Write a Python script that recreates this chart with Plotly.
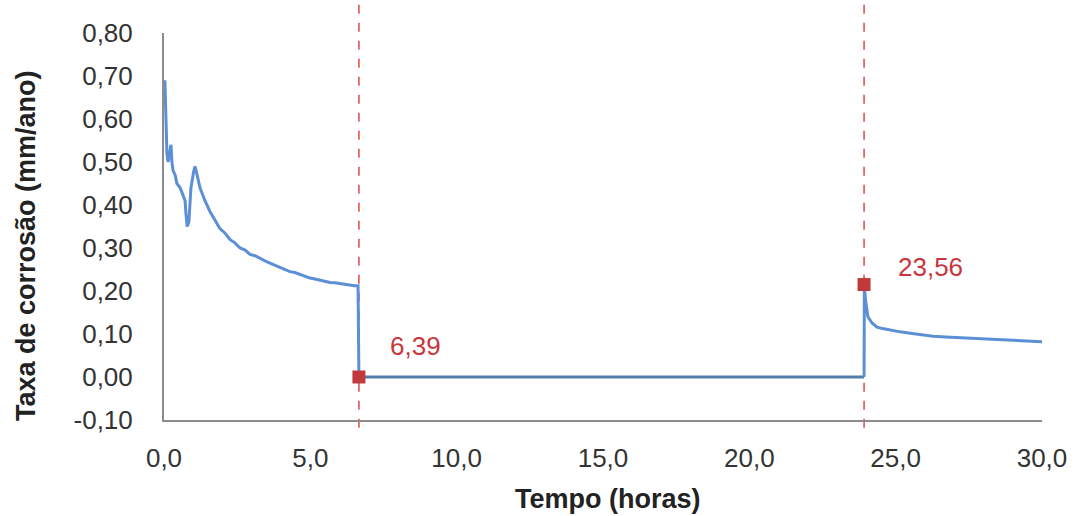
import plotly.graph_objects as go

# Série de taxa de corrosão
t1 = [0.03, 0.07, 0.10, 0.14, 0.20, 0.24, 0.27, 0.31, 0.38, 0.44, 0.55, 0.65, 0.72, 0.75,
      0.79, 0.85, 0.92, 1.02, 1.06, 1.13, 1.23, 1.40, 1.57, 1.74, 1.91, 2.08, 2.25, 2.42,
      2.60, 2.77, 2.94, 3.11, 3.28, 3.45, 3.62, 3.79, 3.96, 4.13, 4.30, 4.47, 4.65, 4.82,
      4.99, 5.16, 5.33, 5.50, 5.67, 5.84, 6.01, 6.18, 6.36, 6.50, 6.63, 6.66]
v1 = [0.69, 0.60, 0.52, 0.50, 0.53, 0.54, 0.50, 0.48, 0.47, 0.45, 0.44, 0.42, 0.41, 0.38,
      0.35, 0.36, 0.44, 0.48, 0.49, 0.47, 0.44, 0.41, 0.385, 0.365, 0.345, 0.335, 0.32, 0.312,
      0.30, 0.295, 0.285, 0.282, 0.275, 0.27, 0.265, 0.26, 0.255, 0.25, 0.245, 0.243, 0.238, 0.234,
      0.23, 0.228, 0.225, 0.223, 0.22, 0.219, 0.217, 0.215, 0.213, 0.212, 0.212, 0.0]

t_zero = [6.66, 23.92]
v_zero = [0.0, 0.0]

t2 = [23.92, 23.93, 23.97, 24.05, 24.2, 24.36, 24.6, 24.9, 25.15, 25.5, 25.9, 26.27, 26.7,
      27.0, 27.43, 27.9, 28.2, 28.56, 29.0, 29.4, 29.7, 30.0]
v2 = [0.0, 0.21, 0.18, 0.14, 0.125, 0.116, 0.112, 0.108, 0.105, 0.102, 0.098, 0.095, 0.093,
      0.092, 0.09, 0.089, 0.087, 0.086, 0.085, 0.084, 0.083, 0.082]

# Eventos marcados
event_t = [6.66, 23.92]
event_v = [0.0, 0.215]
event_labels = ["6,39", "23,56"]
label_t = [8.6, 26.2]
label_v = [0.072, 0.255]

# Eixos
x_ticks = [0, 5, 10, 15, 20, 25, 30]
x_ticktext = ["0,0", "5,0", "10,0", "15,0", "20,0", "25,0", "30,0"]
y_ticks = [-0.1, 0.0, 0.1, 0.2, 0.3, 0.4, 0.5, 0.6, 0.7, 0.8]
y_ticktext = ["-0,10", "0,00", "0,10", "0,20", "0,30", "0,40", "0,50", "0,60", "0,70", "0,80"]
x_title = "Tempo (horas)"
y_title = "Taxa de corrosão (mm/ano)"

blue = "#5B8FD6"
red = "#C8363E"

fig = go.Figure()
fig.add_trace(go.Scatter(x=t1, y=v1, mode="lines", line=dict(color=blue, width=3),
                         showlegend=False, hoverinfo="skip"))
fig.add_trace(go.Scatter(x=t_zero, y=v_zero, mode="lines", line=dict(color="#507CA8", width=3),
                         showlegend=False, hoverinfo="skip"))
fig.add_trace(go.Scatter(x=t2, y=v2, mode="lines", line=dict(color=blue, width=3),
                         showlegend=False, hoverinfo="skip"))

for et in event_t:
    fig.add_shape(type="line", xref="x", yref="paper", x0=et, x1=et, y0=-0.02, y1=1.09,
                  line=dict(color="#E04848", width=1.5, dash="dash"), layer="below")

fig.add_trace(go.Scatter(x=event_t, y=event_v, mode="markers",
                         marker=dict(symbol="square", size=13, color="#C0393B"),
                         showlegend=False, hoverinfo="skip"))

for lt, lv, txt in zip(label_t, label_v, event_labels):
    fig.add_annotation(x=lt, y=lv, text=txt, showarrow=False,
                       font=dict(family="Liberation Sans, Arial", size=26, color=red))

# Títulos dos eixos
fig.add_annotation(xref="paper", yref="paper", x=0.506, y=-0.204, text="<b>" + x_title + "</b>",
                   showarrow=False, xanchor="center", yanchor="middle",
                   font=dict(size=27, color="#222222"))
fig.add_annotation(xref="paper", yref="paper", x=-0.157, y=0.45, text="<b>" + y_title + "</b>",
                   showarrow=False, xanchor="center", yanchor="middle", textangle=-90,
                   font=dict(size=27, color="#222222"))

fig.update_layout(
    width=1078, height=516,
    margin=dict(l=164, r=36, t=33, b=96),
    plot_bgcolor="white", paper_bgcolor="white",
    font=dict(family="Liberation Sans, Arial", size=26, color="#333333"),
)
fig.update_xaxes(range=[0, 30], tickvals=x_ticks, ticktext=x_ticktext, showgrid=False,
                 zeroline=False, showline=True, linecolor="#8C8C8C", linewidth=2, ticks="",
                 ticklabelstandoff=14)
fig.update_yaxes(range=[-0.1, 0.8], tickvals=y_ticks, ticktext=y_ticktext, showgrid=False,
                 zeroline=False, showline=True, linecolor="#8C8C8C", linewidth=2, ticks="",
                 ticklabelstandoff=24)

fig.write_html("out.html")
